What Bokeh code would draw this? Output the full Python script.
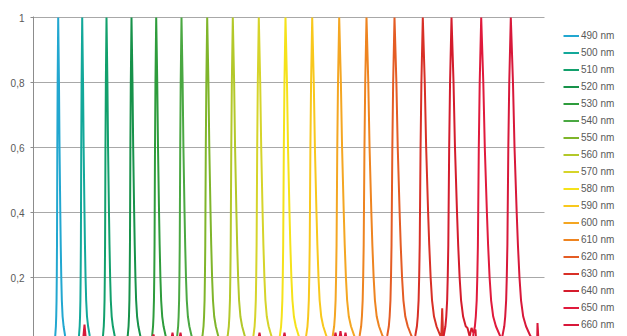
import numpy as np
from bokeh.plotting import figure
from bokeh.models import Range1d, FixedTicker, CustomJSTickFormatter, Legend, LegendItem
from bokeh.embed import file_html
from bokeh.resources import INLINE

wavelengths = [490, 500, 510, 520, 530, 540, 550, 560, 570, 580, 590, 600, 610, 620, 630, 640, 650, 660]
labels = [f"{w} nm" for w in wavelengths]
peak_centers = [24.7, 48.7, 73.0, 98.0, 122.7, 148.0, 173.7, 199.3, 225.3, 252.0, 278.7, 305.7,
                333.0, 361.0, 389.3, 418.0, 447.7, 477.3]
peak_widths = [1.1, 1.2, 1.3, 1.4, 1.5, 1.6, 1.75, 1.9, 2.0, 2.1, 2.25, 2.4, 2.55, 2.7, 2.8, 2.9, 3.0, 3.1]
colors = ["#22a7d0", "#13a89a", "#12a06c", "#17924a", "#2e9c3c", "#4aa842", "#7fb52a", "#b3c82a",
          "#d6d42a", "#f5e21a", "#f8c81d", "#f4a622", "#ee8420", "#e45c24", "#d83026", "#d41c2c",
          "#e01a3c", "#d8183a"]

# peak profile (offset in channels, relative intensity)
profile_dx = [-3.6, -2.7, -2.1, -1.8, -1.5, -1.3, -1.1, -1.0, -0.8, -0.5, 0.0,
              0.7, 1.2, 1.9, 2.3, 2.8, 3.3, 4.0, 4.9, 6.3, 8.5]
profile_y = [0.0, 0.02, 0.05, 0.08, 0.13, 0.2, 0.3, 0.4, 0.6, 0.8, 1.0,
             0.8, 0.6, 0.4, 0.3, 0.2, 0.13, 0.08, 0.05, 0.02, 0.0]

# baseline noise seen on the red spectra
noise = {
    "630 nm": ([407.7, 408.7, 409.7], [0.01, 0.105, 0.01]),
    "640 nm": ([434.0, 436.0, 438.0, 440.0, 442.0, 444.0], [0.045, 0.02, 0.045, 0.03, 0.04, 0.0]),
    "660 nm": ([0.0, 49.5, 51.0, 52.5, 118.5, 120.0, 121.5, 137.5, 139.0, 140.5, 145.5, 147.0, 148.5,
                224.5, 226.0, 227.5, 249.5, 251.0, 252.5, 300.5, 302.0, 303.5, 305.5, 307.0, 308.5,
                310.5, 312.0, 313.5, 503.0, 504.0, 505.0, 511.0],
               [0.005, 0.005, 0.055, 0.005, 0.005, 0.025, 0.005, 0.005, 0.03, 0.005, 0.005, 0.03, 0.005,
                0.005, 0.03, 0.005, 0.005, 0.03, 0.005, 0.005, 0.03, 0.005, 0.005, 0.035, 0.005,
                0.005, 0.03, 0.005, 0.005, 0.06, 0.005, 0.005]),
}

y_ticks = [0.2, 0.4, 0.6, 0.8, 1.0]
x_extent = [0, 511]   # extent of the plotted channels (gridlines span this)

p = figure(width=627, height=336, output_backend="svg", toolbar_location=None,
           x_range=Range1d(0, 594), y_range=Range1d(0.0185, 1.0031),
           x_axis_location=None, min_border_left=33, min_border_right=0,
           min_border_top=16, min_border_bottom=0)
p.outline_line_color = None
p.background_fill_color = "white"
p.xgrid.visible = False
p.ygrid.visible = False
p.yaxis.ticker = FixedTicker(ticks=y_ticks)
p.yaxis.formatter = CustomJSTickFormatter(code="return (Math.round(tick*10)/10).toString().replace('.', ',');")
p.yaxis.axis_line_color = "#8c8c8c"
p.yaxis.major_tick_line_color = "#8c8c8c"
p.yaxis.major_tick_out = 3
p.yaxis.major_tick_in = 0
p.yaxis.minor_tick_line_color = None
p.yaxis.major_label_standoff = 6
p.yaxis.major_label_text_font = "Liberation Sans"
p.yaxis.major_label_text_font_size = "10px"
p.yaxis.major_label_text_color = "#595959"

# horizontal gridlines across the channel extent
p.segment(x0=[x_extent[0]] * len(y_ticks), x1=[x_extent[1]] * len(y_ticks), y0=y_ticks, y1=y_ticks,
          line_color="#a8a8a8", line_width=1)

items = []
for lab, c, s, col in zip(labels, peak_centers, peak_widths, colors):
    xs = [c + s * d for d in profile_dx]
    ys = list(profile_y)
    if lab in noise:
        xs += noise[lab][0]
        ys += noise[lab][1]
    order = np.argsort(xs, kind="stable")
    xs = [xs[i] for i in order]
    ys = [ys[i] for i in order]
    r = p.line(xs, ys, line_color=col, line_width=2)
    items.append(LegendItem(label=lab, renderers=[r]))

legend = Legend(items=items, location=(530, 3), glyph_width=16, glyph_height=17, label_height=17,
                label_standoff=2, spacing=0, padding=0, margin=0, border_line_color=None,
                background_fill_alpha=0, label_text_font="Liberation Sans",
                label_text_font_size="10px", label_text_color="#595959")
p.add_layout(legend)

open("out.html", "w").write(file_html(p, INLINE))
